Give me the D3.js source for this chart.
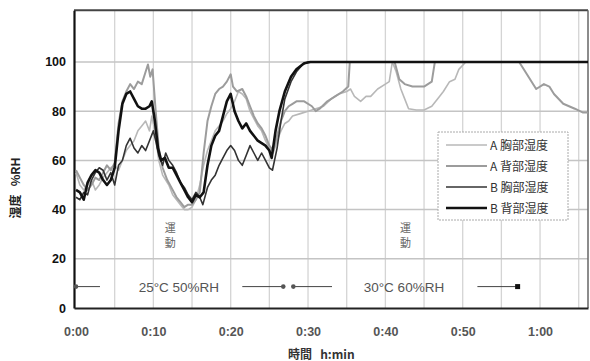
<!DOCTYPE html>
<html>
<head>
<meta charset="utf-8">
<script src="https://cdn.jsdelivr.net/npm/d3@7"></script>
<style>
  body { margin: 0; background: #fff; }
  text { font-family: "Liberation Sans", Arial, sans-serif; white-space: pre; }
  .cjk { font-family: "Noto Sans CJK JP", sans-serif; }
</style>
</head>
<body>
<div id="chart"></div>
<script>
// tick labels
var xTicks = [0, 10, 20, 30, 40, 50, 60]
var xTickLabels = ['0:00', '0:10', '0:20', '0:30', '0:40', '0:50', '1:00']
var yTicks = [0, 20, 40, 60, 80, 100]
var xGrid = [5, 10, 15, 20, 25, 30, 35, 40, 45, 50, 55, 60, 65]

var seriesNames = ['A 胸部湿度', 'A 背部湿度', 'B 胸部湿度', 'B 背部湿度']

// [minutes, %RH]
var aChest = [[0,55],[0.5,50],[1,48],[1.5,50],[2,52],[2.5,48],[3,50],[3.5,53],[4,55],[4.5,57],[5,58],[5.5,56],[6,60],[6.5,64],[7,66],[7.5,68],[8,72],[8.5,74],[9,76],[9.5,72],[9.8,78],[10.2,72],[10.7,60],[11.2,54],[12,50],[12.5,46],[13,44],[13.5,42],[14,40],[14.5,40],[15,41],[15.5,44],[16,50],[16.5,58],[17,64],[17.5,68],[18,72],[18.5,74],[19,76],[19.5,79],[20,81],[20.5,84],[21,88],[21.5,87],[22,85],[22.5,80],[23,77],[23.5,74],[24,72],[24.5,68],[25,65],[25.5,63],[26,68],[26.5,72],[27,75],[27.5,76],[28,78],[29,79],[30,80],[31,81],[32,82],[33,85],[34,87],[35,88],[35.5,89],[36,86],[36.8,84],[37.5,86],[38.1,86],[39,89],[40,91],[40.5,92],[40.9,100],[41.4,96],[42,89],[42.5,85],[43,81],[44,80.5],[45,80.5],[46,82],[47,86],[47.5,88],[48.3,92],[49,93],[49.5,97],[50.4,100],[66.2,100]]

var aBack = [[0,56],[0.5,53],[1,50],[1.5,48],[2,50],[2.5,53],[3,52],[3.5,55],[4,58],[4.5,56],[5,59],[5.5,75],[6,84],[6.5,88],[7,91],[7.5,89],[8,92],[8.5,91],[9,96],[9.3,99],[9.6,94],[9.9,97],[10.3,80],[10.7,65],[11.2,57],[11.8,52],[12.5,48],[13,45],[13.5,43],[14,41],[14.5,42],[15,42],[15.5,44],[16,47],[16.5,63],[17,76],[17.5,82],[18,87],[18.5,89],[19,90],[19.5,92],[20,95],[20.3,90],[20.8,88],[21.5,89],[22,86],[22.5,82],[23,78],[23.5,75],[24,73],[24.5,70],[25,66],[25.5,64],[26,70],[26.5,76],[27,80],[27.5,82],[28,83],[28.5,84],[29.5,84],[30.5,82],[31,80],[31.5,81],[32.5,84],[33.5,86],[34.5,88],[35.2,90],[35.4,100],[41.2,100],[41.8,93],[42.5,91],[43.5,90],[45,90],[46,92],[46.4,100],[57.3,100],[58.3,95],[59.5,89],[60.5,91],[61.2,90],[61.8,87],[63,83],[64.5,81],[65.5,79.5],[66.2,79.5]]

var bChest = [[0,45],[0.5,44],[1,47],[1.5,46],[2,52],[2.5,55],[3,57],[3.5,56],[4,52],[4.5,55],[5,50],[5.5,58],[6,60],[6.5,66],[7,69],[7.5,65],[8,63],[8.5,66],[9,64],[9.5,68],[10,72],[10.3,68],[10.7,62],[11.2,58],[11.6,63],[12,60],[12.5,58],[13,55],[13.5,51],[14,49],[14.5,46],[15,44],[15.5,47],[16,45],[16.4,42],[17,49],[17.5,52],[18,54],[18.5,58],[19,61],[19.5,64],[20,66],[20.5,64],[21,60],[21.5,58],[22,62],[22.5,66],[23,63],[23.5,60],[24,63],[24.5,60],[25,57],[25.4,56],[26,65],[26.5,76],[27,85],[27.8,92],[28.5,96],[29.3,99],[30,100],[66.2,100]]

var bBack = [[0,48],[0.5,47],[1,44],[1.5,51],[2,54],[2.5,56],[3,55],[3.5,52],[4,50],[4.5,52],[5,57],[5.5,72],[6,83],[6.5,87],[7,88],[7.5,85],[8,82],[8.5,81],[9,81],[9.5,82],[9.8,84],[10.2,76],[10.6,65],[11,60],[11.5,61],[12,57],[12.5,57],[13,54],[13.5,51],[14,48],[14.5,45],[15,43],[15.5,46],[16,45],[16.5,47],[17,58],[17.5,66],[18,70],[18.5,72],[19,78],[19.5,84],[20,87],[20.5,80],[21,76],[21.5,73],[22,75],[22.5,72],[23,70],[23.5,68],[24,67],[24.5,66],[25,64],[25.3,61],[25.8,72],[26.3,80],[27,88],[27.8,94],[28.5,97],[29.5,99.5],[30.3,100],[66.2,100]]

// condition bars at the bottom: [start, end] in minutes
var condSegments = [[0, 3.1], [21.5, 26.8], [28.1, 33.1], [51.9, 57.1]]
var condDots = [0, 26.8, 28.1]
var condSquare = [57.1]
var condLabels = [{t: 13.3, text: '25°C 50%RH'}, {t: 42.4, text: '30°C 60%RH'}]
var exerciseMarks = [12.2, 42.6]

var w = 590, h = 361

var svg = d3.select('#chart').append('svg')
  .attr('width', w)
  .attr('height', h)

var x = d3.scaleLinear().domain([-0.26, 66.2]).range([74, 588])
var y = d3.scaleLinear().domain([0, 121]).range([308, 10.3])

// grid
svg.selectAll('.vgrid')
  .data(xGrid)
  .enter().append('line')
  .attr('x1', function(d) { return x(d) })
  .attr('x2', function(d) { return x(d) })
  .attr('y1', y(121))
  .attr('y2', y(0))
  .attr('stroke', '#d4d4d4')
  .attr('stroke-width', 1.3)

svg.selectAll('.hgrid')
  .data(yTicks.slice(1))
  .enter().append('line')
  .attr('x1', x(-0.26))
  .attr('x2', x(66.2))
  .attr('y1', function(d) { return y(d) })
  .attr('y2', function(d) { return y(d) })
  .attr('stroke', '#c4c4c4')
  .attr('stroke-width', 1.5)

// frame
svg.append('line').attr('x1', 74).attr('x2', 588).attr('y1', y(121)).attr('y2', y(121))
  .attr('stroke', '#444').attr('stroke-width', 2)
svg.append('line').attr('x1', 588).attr('x2', 588).attr('y1', y(121)).attr('y2', y(0))
  .attr('stroke', '#666').attr('stroke-width', 1.5)

// axes
var yAxis = d3.axisLeft(y).tickValues(yTicks).tickSize(0).tickPadding(8)
var gy = svg.append('g').attr('transform', 'translate(' + x(-0.26) + ',0)').call(yAxis)
gy.select('.domain').attr('stroke', '#111').attr('stroke-width', 2.2)
gy.selectAll('text').attr('font-size', 12.5).attr('font-weight', 'bold').attr('fill', '#111')

var xAxis = d3.axisBottom(x).tickValues(xTicks).tickSize(0).tickPadding(19)
  .tickFormat(function(d, i) { return xTickLabels[i] })
var gx = svg.append('g').attr('transform', 'translate(0,' + y(0) + ')').call(xAxis)
gx.select('.domain').attr('stroke', '#222').attr('stroke-width', 2.2)
gx.selectAll('text').attr('font-size', 12.5).attr('font-weight', 'bold').attr('fill', '#555')

// axis titles
svg.append('text')
  .attr('class', 'cjk')
  .attr('x', 288).attr('y', 359)
  .attr('font-size', 12).attr('font-weight', 'bold').attr('fill', '#333')
  .text('時間   h:min')

svg.append('text')
  .attr('class', 'cjk')
  .attr('transform', 'translate(20,188) rotate(-90)')
  .attr('text-anchor', 'middle')
  .attr('font-size', 12).attr('font-weight', 'bold').attr('fill', '#222')
  .text('湿度   %RH')

// annotations
exerciseMarks.forEach(function(t) {
  svg.append('text').attr('class', 'cjk')
    .attr('x', x(t)).attr('y', 232).attr('text-anchor', 'middle')
    .attr('font-size', 11).attr('fill', '#666').text('運')
  svg.append('text').attr('class', 'cjk')
    .attr('x', x(t)).attr('y', 247).attr('text-anchor', 'middle')
    .attr('font-size', 11).attr('fill', '#666').text('動')
})

svg.selectAll('.cond')
  .data(condSegments)
  .enter().append('line')
  .attr('x1', function(d) { return x(d[0]) })
  .attr('x2', function(d) { return x(d[1]) })
  .attr('y1', y(8.7)).attr('y2', y(8.7))
  .attr('stroke', '#444').attr('stroke-width', 1)

svg.selectAll('.cdot')
  .data(condDots)
  .enter().append('circle')
  .attr('cx', function(d) { return x(d) })
  .attr('cy', y(8.7))
  .attr('r', 2.3)
  .attr('fill', '#555')

svg.selectAll('.csq')
  .data(condSquare)
  .enter().append('rect')
  .attr('x', function(d) { return x(d) - 2.5 })
  .attr('y', y(8.7) - 2.5)
  .attr('width', 5).attr('height', 5)
  .attr('fill', '#111')

svg.selectAll('.clab')
  .data(condLabels)
  .enter().append('text')
  .attr('x', function(d) { return x(d.t) })
  .attr('y', y(8.7) + 5)
  .attr('text-anchor', 'middle')
  .attr('font-size', 13.5).attr('fill', '#555')
  .text(function(d) { return d.text })

// series
var styles = [
  {data: aChest, color: '#b8b8b8', width: 1.6},
  {data: aBack, color: '#9c9c9c', width: 2},
  {data: bChest, color: '#333', width: 1.6},
  {data: bBack, color: '#111', width: 2.6}
]

var line = d3.line()
  .x(function(d) { return x(d[0]) })
  .y(function(d) { return y(d[1]) })

svg.selectAll('.series')
  .data(styles)
  .enter().append('path')
  .attr('class', 'series')
  .attr('d', function(d) { return line(d.data) })
  .attr('fill', 'none')
  .attr('stroke', function(d) { return d.color })
  .attr('stroke-width', function(d) { return d.width })
  .attr('stroke-linejoin', 'round')

// legend
var lg = svg.append('g').attr('transform', 'translate(438,132)')
lg.append('rect')
  .attr('width', 130).attr('height', 88)
  .attr('fill', '#fff')
  .attr('stroke', '#aaa').attr('stroke-width', 1).attr('stroke-dasharray', '2,1')

styles.forEach(function(s, i) {
  var yy = 13 + i * 21
  lg.append('line')
    .attr('x1', 8).attr('x2', 49).attr('y1', yy).attr('y2', yy)
    .attr('stroke', s.color).attr('stroke-width', s.width)
  lg.append('text').attr('class', 'cjk')
    .attr('x', 52).attr('y', yy + 4.5)
    .attr('font-size', 12).attr('fill', '#333')
    .text(seriesNames[i])
})
</script>
</body>
</html>
